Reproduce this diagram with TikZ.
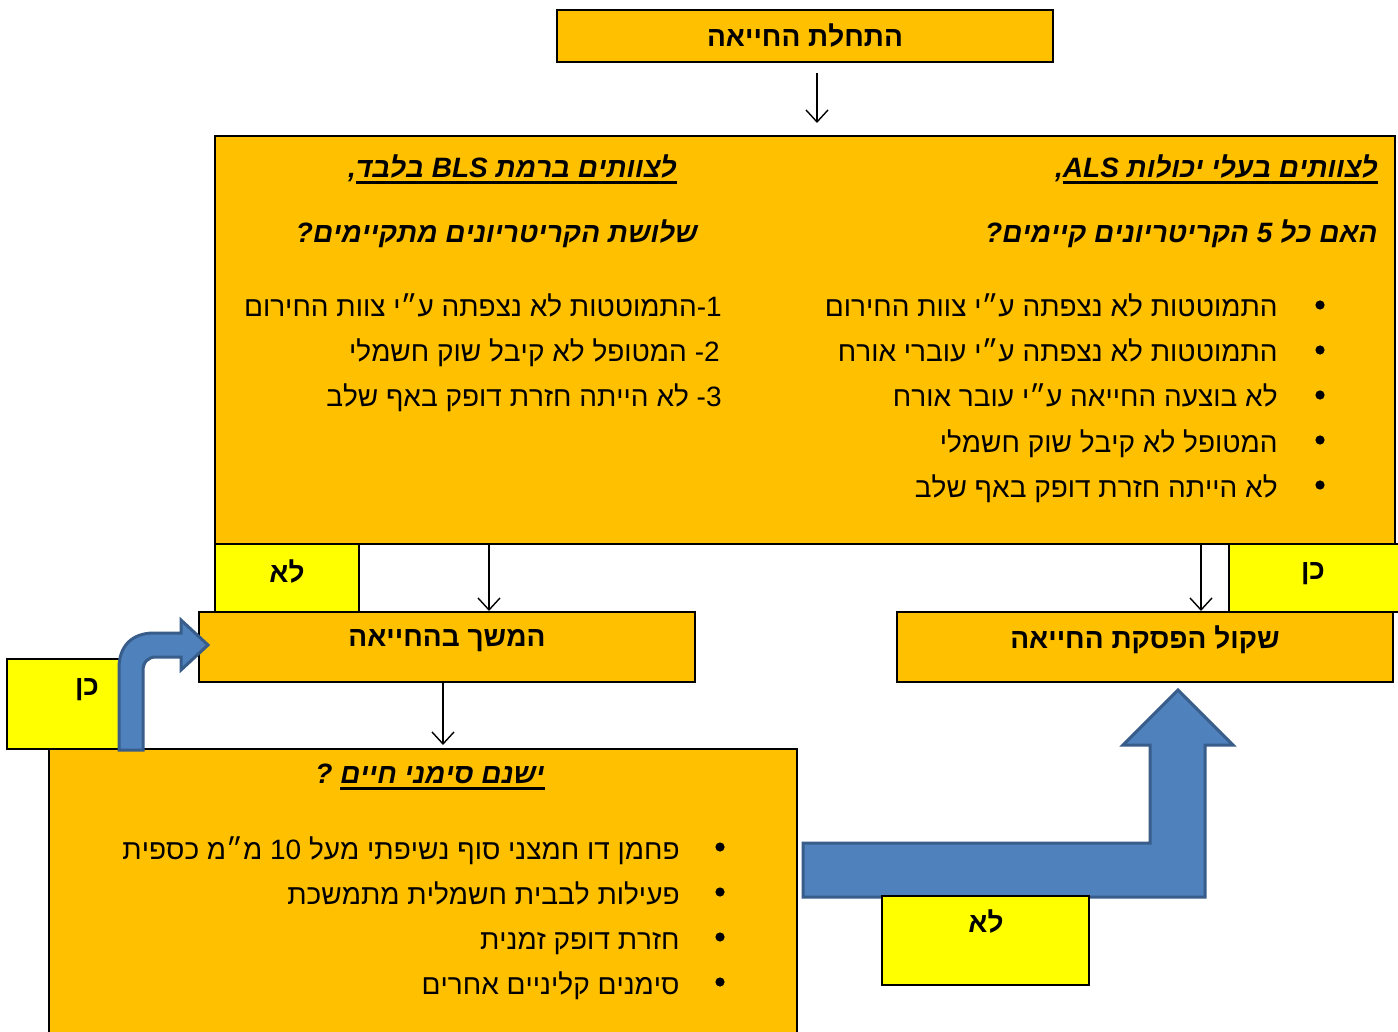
\documentclass[tikz,border=0pt]{standalone}
\usepackage{fontspec}
\setmainfont{Liberation Sans}
\usetikzlibrary{arrows.meta}
\TeXXeTstate=1
\newcommand{\heb}[1]{\beginR #1\endR}
\newcommand{\uln}[1]{\vtop{\hbox{\beginR #1\endR}\kern1.6pt\hrule height 1.3pt}}
\definecolor{orng}{HTML}{FFC000}
\definecolor{yelw}{HTML}{FFFF00}
\definecolor{arrowblue}{HTML}{4F81BD}
\definecolor{arrowedge}{HTML}{385D8A}

\begin{document}
\begin{tikzpicture}[
    x=0.5pt, y=-0.5pt,
    every node/.style={font=\fontsize{14}{16}\selectfont, inner sep=0pt},
    frame/.style={draw=black, line width=1pt},
    obox/.style={frame, fill=orng},
    ybox/.style={frame, fill=yelw},
    head/.style={font=\fontsize{14}{16}\selectfont\bfseries\itshape},
    lbl/.style={font=\fontsize{14}{16}\selectfont\bfseries},
    item/.style={anchor=east, text height=12pt, text depth=0pt},
    bul/.style={circle, fill=black, minimum size=4.6pt},
    flow/.style={line width=0.7pt, -{Straight Barb[length=6pt,width=11pt]}},
    bigarrow/.style={fill=arrowblue, draw=arrowedge, line width=1.5pt}
]
    \useasboundingbox (0,0) rectangle (1398,1032);
    \fill[white] (0,0) rectangle (1398,1032);

    \node[obox, minimum width=248pt, minimum height=26pt] (start) at (805,36) {};
    \node[lbl] (startlbl) at (start) {\heb{התחלת החייאה}};

    \node[obox, minimum width=590pt, minimum height=204pt] (main) at (805,340) {};
    \node[head, anchor=east] (alshead) at (1378,169) {\heb{\uln{לצוותים בעלי יכולות \beginL ALS\endL},}};
    \node[head, anchor=east] (alsq) at (1378,234) {\heb{האם כל 5 הקריטריונים קיימים?}};
    \node[head, anchor=east] (blshead) at (677,169) {\heb{\uln{לצוותים ברמת \beginL BLS\endL{} בלבד},}};
    \node[head, anchor=east] (blsq) at (698,234) {\heb{שלושת הקריטריונים מתקיימים?}};

    \foreach \y/\txt in {305/התמוטטות לא נצפתה ע״י צוות החירום,
                         350/התמוטטות לא נצפתה ע״י עוברי אורח,
                         395/לא בוצעה החייאה ע״י עובר אורח,
                         440/המטופל לא קיבל שוק חשמלי,
                         485/לא הייתה חזרת דופק באף שלב} {
        \node[bul] (alsbul\y) at (1320,\y) {};
        \node[item] (als\y) at (1278,\y) {\heb{\txt}};
    }

    \node[item] (bls1) at (722,305) {\heb{\beginL -1\endL התמוטטות לא נצפתה ע״י צוות החירום}};
    \node[item] (bls2) at (720,350) {\heb{\beginL -2\endL{} המטופל לא קיבל שוק חשמלי}};
    \node[item] (bls3) at (722,395) {\heb{\beginL -3\endL{} לא הייתה חזרת דופק באף שלב}};

    \node[ybox, minimum width=72pt, minimum height=34pt] (nobls) at (287,578) {};
    \node[lbl] (noblslbl) at (287,572) {\heb{לא}};
    \node[ybox, minimum width=86pt, minimum height=34pt] (yesals) at (1315,578) {};
    \node[lbl] (yesalslbl) at (1313,574) {\heb{כן}};

    \node[obox, minimum width=248pt, minimum height=35pt] (cont) at (447,647) {};
    \node[lbl] (contlbl) at (447,641) {\heb{המשך בהחייאה}};
    \node[obox, minimum width=248pt, minimum height=35pt] (stop) at (1145,647) {};
    \node[lbl] (stoplbl) at (1145,640) {\heb{שקול הפסקת החייאה}};

    \node[ybox, minimum width=56pt, minimum height=45pt] (yessigns) at (63,704) {};
    \node[lbl] (yessignslbl) at (87,690) {\heb{כן}};

    \node[obox, minimum width=374pt, minimum height=150pt] (signs) at (423,899) {};
    \node[head] (signshead) at (430,777) {\heb{\uln{ישנם סימני חיים} ?}};
    \foreach \y/\txt in {847/פחמן דו חמצני סוף נשיפתי מעל \beginL 10\endL{} מ״מ כספית,
                         892/פעילות לבבית חשמלית מתמשכת,
                         937/חזרת דופק זמנית,
                         982/סימנים קליניים אחרים} {
        \node[bul] (signsbul\y) at (720,\y) {};
        \node[item] (signs\y) at (680,\y) {\heb{\txt}};
    }

    \draw[flow, shorten <=5pt, shorten >=6pt] ([xshift=6pt]start.south) -- ([xshift=6pt]start.south |- main.north);
    \draw[flow] ([xshift=21pt]cont.north |- main.south) -- ([xshift=21pt]cont.north);
    \draw[flow, shorten >=1.5pt] ([xshift=-2pt]cont.south) -- ([xshift=-2pt]cont.south |- signs.north);
    \draw[flow] ([xshift=28pt]stop.north |- main.south) -- ([xshift=28pt]stop.north);

    \draw[bigarrow] (119,750) -- (119,668) .. controls (119,646) and (132,633) .. (154,633)
        -- (181,633) -- (181,620) -- (208,645) -- (181,670) -- (181,657) -- (156,657)
        .. controls (148,657) and (143,662) .. (143,671) -- (143,750) -- cycle;
    \draw[bigarrow] (803,843) -- (1150,843) -- (1150,745) -- (1123,745) -- (1178,690)
        -- (1233,745) -- (1205,745) -- (1205,897) -- (803,897) -- cycle;

    \node[ybox, minimum width=103.5pt, minimum height=44.5pt] (nosigns) at (985.5,940.5) {};
    \node[lbl] (nosignslbl) at (986,922) {\heb{לא}};
\end{tikzpicture}
\end{document}
